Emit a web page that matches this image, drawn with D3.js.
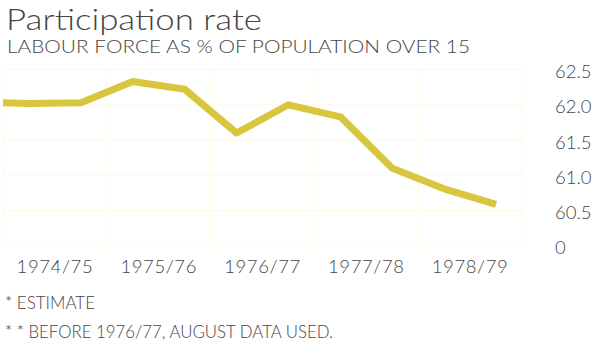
<!DOCTYPE html>
<html>
<head>
<meta charset="utf-8">
<script src="https://cdn.jsdelivr.net/npm/d3@7"></script>
<style>
  html, body { margin: 0; padding: 0; background: #fff; }
  svg { display: block; }
  text { font-family: "Lato", "Open Sans", sans-serif; fill: #454545; }
</style>
</head>
<body>
<svg id="chart" width="600" height="348"></svg>
<script>
// Financial years shown along the bottom
const years = ["1974/75", "1975/76", "1976/77", "1977/78", "1978/79"];
// Half-yearly observation times (fiscal-year start + fraction)
const periods = [1974.0, 1974.25, 1974.75, 1975.25, 1975.75, 1976.25, 1976.75, 1977.25, 1977.75, 1978.25, 1978.75];
// Labour force as % of population over 15
const rates = [62.03, 62.02, 62.03, 62.33, 62.22, 61.60, 62.00, 61.83, 61.10, 60.81, 60.59];
// Right-hand axis ticks (axis broken below 60.5)
const tickValues = [60.0, 60.5, 61.0, 61.5, 62.0, 62.5];
const tickLabels = ["0", "60.5", "61.0", "61.5", "62.0", "62.5"];

const svg = d3.select("#chart");
const plot = { left: 3, right: 522, top: 69.5, bottom: 246 };

const x = d3.scaleLinear().domain([1974, 1979]).range([plot.left, plot.right]);
const y = d3.scaleLinear().domain([60, 62.5]).range([plot.bottom, plot.top]);

// Title and subtitle
svg.append("text").attr("x", 6).attr("y", 30)
  .attr("font-size", 30).attr("font-weight", 300)
  .attr("textLength", 256).attr("lengthAdjust", "spacingAndGlyphs")
  .text("Participation rate");
svg.append("text").attr("x", 7).attr("y", 53)
  .attr("font-size", 18.5).attr("font-weight", 300)
  .attr("textLength", 463).attr("lengthAdjust", "spacingAndGlyphs")
  .text("LABOUR FORCE AS % OF POPULATION OVER 15");

// Faint grid
const grid = svg.append("g").attr("stroke", "#fcfbe2").attr("stroke-width", 1);
grid.selectAll("line.h").data(tickValues).join("line").attr("class", "h")
  .attr("x1", plot.left).attr("x2", plot.right)
  .attr("y1", d => y(d)).attr("y2", d => y(d));
grid.selectAll("line.v").data(d3.range(1974, 1980)).join("line").attr("class", "v")
  .attr("y1", plot.top).attr("y2", plot.bottom)
  .attr("x1", d => x(d)).attr("x2", d => x(d));

// Right axis labels
const yAxis = d3.axisRight(y).tickValues(tickValues)
  .tickFormat((d, i) => tickLabels[i]).tickSize(0).tickPadding(0);
const ya = svg.append("g").attr("transform", `translate(555,2)`).call(yAxis);
ya.select(".domain").remove();
ya.selectAll("text").attr("font-size", 18.5).attr("font-weight", 300)
  .attr("fill", "#454545").attr("font-family", "Lato, 'Open Sans', sans-serif");

// Bottom axis labels centred in each financial year
const xb = d3.scaleBand().domain(years).range([plot.left, plot.right]);
const xAxis = d3.axisBottom(xb).tickSize(0).tickPadding(0);
const xa = svg.append("g").attr("transform", `translate(0,260)`).call(xAxis);
xa.select(".domain").remove();
xa.selectAll("text").attr("font-size", 18.5).attr("font-weight", 300)
  .attr("letter-spacing", 0.6)
  .attr("fill", "#454545").attr("font-family", "Lato, 'Open Sans', sans-serif");

// Data line
svg.append("path")
  .datum(periods.map((p, i) => [p, rates[i]]))
  .attr("fill", "none")
  .attr("stroke", "#d8c63e")
  .attr("stroke-width", 7)
  .attr("stroke-linejoin", "round")
  .attr("d", d3.line().x(d => x(d[0])).y(d => y(d[1])));

// Footnotes
svg.append("text").attr("x", 5).attr("y", 309)
  .attr("font-size", 17.5).attr("font-weight", 300)
  .attr("textLength", 90).attr("lengthAdjust", "spacingAndGlyphs")
  .text("* ESTIMATE");
svg.append("text").attr("x", 5).attr("y", 338)
  .attr("font-size", 17.5).attr("font-weight", 300)
  .attr("textLength", 328).attr("lengthAdjust", "spacingAndGlyphs")
  .text("* * BEFORE 1976/77, AUGUST DATA USED.");
</script>
</body>
</html>
